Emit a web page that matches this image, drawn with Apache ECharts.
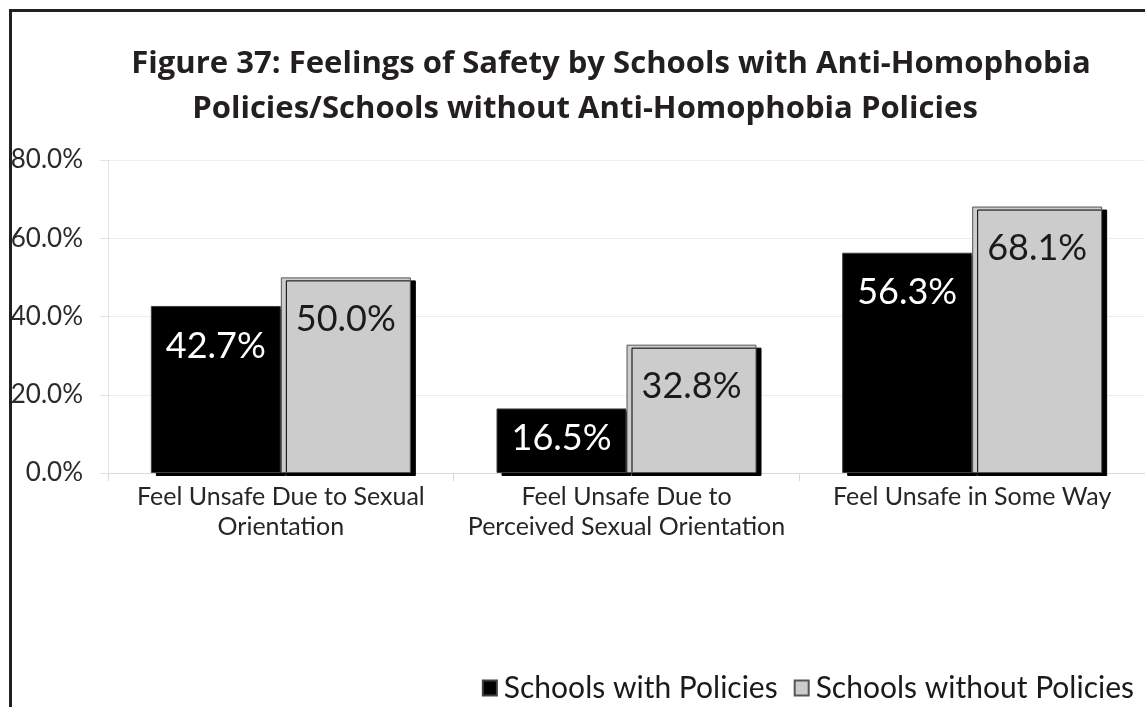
<!DOCTYPE html>
<html>
<head>
<meta charset="utf-8">
<script src="https://cdn.jsdelivr.net/npm/echarts@6/dist/echarts.min.js"></script>
<style>html,body{margin:0;padding:0;background:#fff}#c{width:1145px;height:707px}</style>
</head>
<body>
<div id="c"></div>
<script>
const titleLines = ['Figure 37: Feelings of Safety by Schools with Anti-Homophobia', 'Policies/Schools without Anti-Homophobia Policies'];
const categories = ['Feel Unsafe Due to Sexual\nOrientation', 'Feel Unsafe Due to\nPerceived Sexual Orientation', 'Feel Unsafe in Some Way'];
const seriesNames = ['Schools with Policies', 'Schools without Policies'];
const withPolicies = [42.7, 16.5, 56.3];
const withoutPolicies = [50.0, 32.8, 68.1];
const yTicks = [0, 20, 40, 60, 80];

// fit title font size so the first line spans about 960px
function fitSize(text, family, weight, target) {
  const cv = document.createElement('canvas').getContext('2d');
  cv.font = weight + ' 30px ' + family;
  const w = cv.measureText(text).width;
  return Math.min(36, 30 * target / w);
}
const titleFont = '"Open Sans"';
const titleSize = fitSize(titleLines[0], titleFont, 'bold', 960);
const titleStyle = {fontFamily: titleFont, fontWeight: 'bold', fontSize: titleSize, color: '#231f20'};

const chart = echarts.init(document.getElementById('c'), null, {renderer: 'canvas'});
const labelFont = 'Lato';
function mkData(vals, special) {
  return vals.map((v, i) => {
    const d = {value: v};
    if (special && special[i] !== undefined) d.label = {distance: special[i]};
    return d;
  });
}
chart.setOption({
  animation: false,
  backgroundColor: '#ffffff',
  title: [
    {text: titleLines[0], left: 606, top: 44, textAlign: 'center', textStyle: titleStyle},
    {text: titleLines[1], left: 580, top: 89, textAlign: 'center', textStyle: titleStyle}
  ],
  graphic: [{
    type: 'rect', left: 8, top: 8, shape: {x: 0, y: 0, width: 1300, height: 900},
    style: {fill: 'none', stroke: '#231f20', lineWidth: 3}, silent: true, z: 100
  }],
  legend: {
    data: seriesNames,
    right: 6,
    top: 668,
    itemWidth: 14,
    itemHeight: 15,
    itemGap: 16,
    textStyle: {fontFamily: labelFont, fontSize: 30, color: '#1a1a1a', padding: [0, 0, 0, 2]},
    icon: 'rect'
  },
  grid: {left: 108, top: 160, bottom: 234, right: -10, containLabel: false},
  xAxis: {
    type: 'category',
    data: categories,
    axisLine: {show: true, lineStyle: {color: '#d9d9d9', width: 1}},
    axisTick: {show: true, length: 8, lineStyle: {color: '#d9d9d9'}},
    axisLabel: {interval: 0, fontFamily: labelFont, fontSize: 25, color: '#262626', lineHeight: 30, margin: 9}
  },
  yAxis: {
    type: 'value',
    min: yTicks[0], max: yTicks[yTicks.length - 1], interval: 20,
    axisLine: {show: true, lineStyle: {color: '#e3e3e3'}},
    axisTick: {show: true, length: 8, lineStyle: {color: '#e3e3e3'}},
    splitLine: {show: true, lineStyle: {color: '#ececec', width: 1}},
    axisLabel: {fontFamily: labelFont, fontSize: 26, color: '#2b2b2b', margin: 25, formatter: v => v.toFixed(1) + '%'}
  },
  series: [{
    name: seriesNames[0],
    type: 'bar',
    data: mkData(withPolicies, {1: 12}),
    barWidth: 130,
    barGap: '0%',
    itemStyle: {color: '#000000', borderColor: '#404040', borderWidth: 1, shadowColor: '#000', shadowOffsetX: 5, shadowOffsetY: 3, shadowBlur: 0},
    label: {show: true, position: 'insideTop', distance: 22, fontFamily: labelFont, fontSize: 36, color: '#ffffff', formatter: p => p.value.toFixed(1) + '%'}
  }, {
    name: seriesNames[1],
    type: 'bar',
    data: mkData(withoutPolicies),
    barWidth: 130,
    barGap: '0%',
    itemStyle: {color: '#cccccc', borderColor: '#555555', borderWidth: 1, shadowColor: '#000', shadowOffsetX: 5, shadowOffsetY: 3, shadowBlur: 0},
    label: {show: true, position: 'insideTop', distance: 24, fontFamily: labelFont, fontSize: 36, color: '#1a1a1a', formatter: p => p.value.toFixed(1) + '%'}
  }]
});
</script>
</body>
</html>
